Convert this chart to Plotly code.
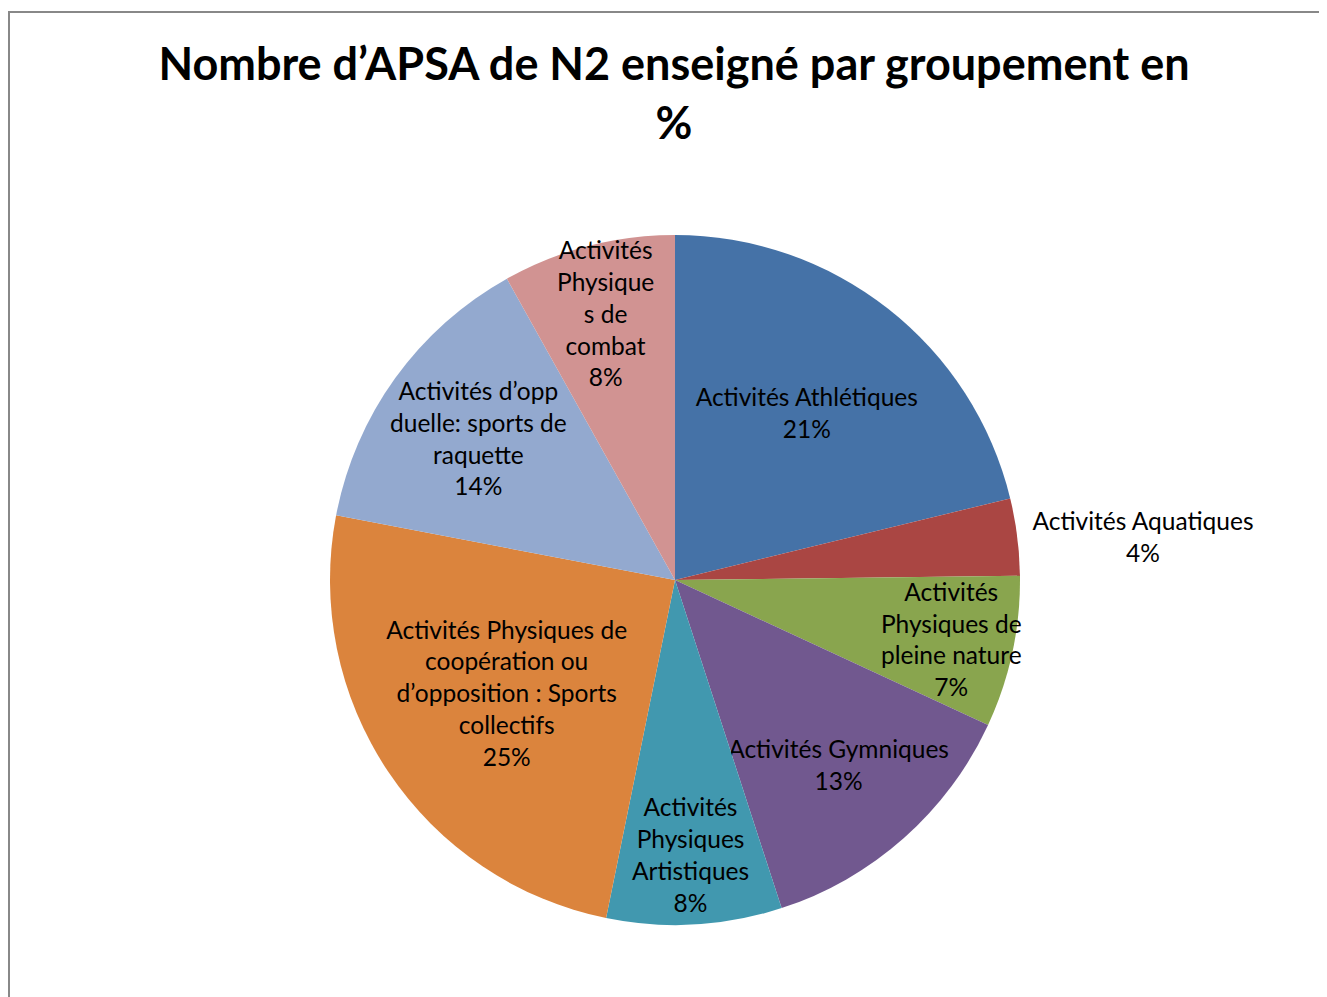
import plotly.graph_objects as go

categories = [
    "Activités Athlétiques",
    "Activités Aquatiques",
    "Activités Physiques de pleine nature",
    "Activités Gymniques",
    "Activités Physiques Artistiques",
    "Activités Physiques de coopération ou d’opposition : Sports collectifs",
    "Activités d’opp duelle: sports de raquette",
    "Activités Physiques de combat",
]
wrapped_labels = [
    "Activités Athlétiques",
    "Activités Aquatiques",
    "Activités<br>Physiques de<br>pleine nature",
    "Activités Gymniques",
    "Activités<br>Physiques<br>Artistiques",
    "Activités Physiques de<br>coopération ou<br>d’opposition : Sports<br>collectifs",
    "Activités d’opp<br>duelle: sports de<br>raquette",
    "Activités<br>Physique<br>s de<br>combat",
]
values = [21.2, 3.6, 7.1, 13.1, 8.2, 24.8, 13.9, 8.1]
colors = ["#4572A7", "#AA4643", "#89A54E", "#71588F", "#4198AF", "#DB843D", "#93A9CF", "#D19392"]
text_positions = ["inside", "outside", "inside", "inside", "inside", "inside", "inside", "inside"]

W, H = 1327, 997
OFF = 8  # page body margin offset
cx, cy, r = 675 - OFF, 580 - OFF, 345

fig = go.Figure(go.Pie(
    labels=categories,
    values=values,
    customdata=wrapped_labels,
    texttemplate="%{customdata}<br>%{percent:.0%}",
    textposition=text_positions,
    insidetextorientation="horizontal",
    sort=False,
    direction="clockwise",
    rotation=0,
    marker=dict(colors=colors, line=dict(width=0)),
    textfont=dict(family="Lato", size=24.5, color="black"),
    showlegend=False,
    hoverinfo="label+percent",
    domain=dict(x=[(cx - r) / W, (cx + r) / W], y=[1 - (cy + r) / H, 1 - (cy - r) / H]),
))

fig.update_layout(
    width=W, height=H,
    margin=dict(l=0, r=0, t=0, b=0),
    paper_bgcolor="white",
    plot_bgcolor="white",
    uniformtext=dict(minsize=24.5, mode="show"),
    title=dict(
        text="Nombre d’APSA de N2 enseigné par groupement en<br>%",
        font=dict(family="Lato", size=45, color="black", weight="bold"),
        x=(674 - OFF) / W, xanchor="center",
        y=1 - 72 / H, yanchor="middle",
    ),
    shapes=[dict(
        type="rect", xref="paper", yref="paper",
        x0=1 / W, x1=1.2, y0=-0.2, y1=1 - 4 / H,
        line=dict(color="#888888", width=2),
        fillcolor="rgba(0,0,0,0)", layer="above",
    )],
)

fig.write_html("out.html")
